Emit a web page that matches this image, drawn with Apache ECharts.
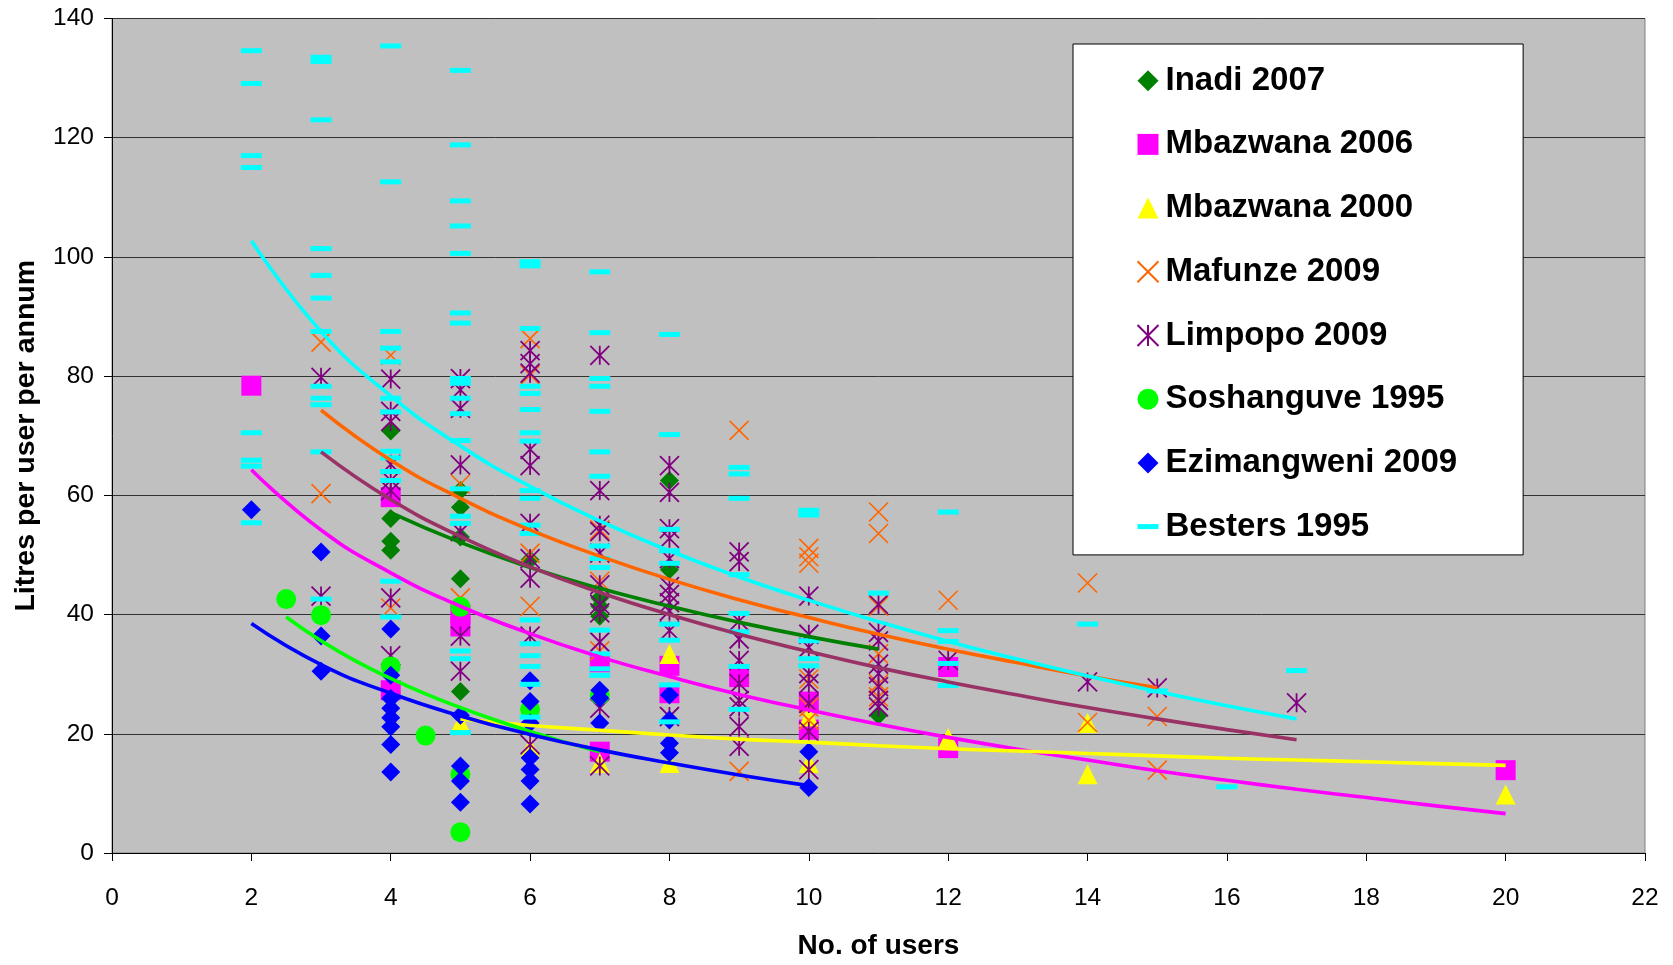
<!DOCTYPE html>
<html><head><meta charset="utf-8">
<script src="https://cdn.jsdelivr.net/npm/echarts@6/dist/echarts.min.js"></script>
<style>html,body{margin:0;padding:0;background:#fff}#c{width:1673px;height:965px}</style>
</head><body><div id="c"></div>
<script>
// ---- data: [No. of users, Litres per user per annum] ----
const inadi2007 = [[4,70.8],[4,56.1],[4,52.3],[4,50.8],[5,60.8],[5,58.0],[5,53.0],[5,46.0],[5,27.1],[6,49.2],[7,42.8],[7,41.4],[7,39.7],[8,62.5],[8,47.5],[11,23.1]];
const mbazwana2006 = [[2,78.4],[4,59.7],[4,27.3],[5,40.0],[5,38.0],[7,32.0],[7,17.0],[8,31.4],[8,26.8],[9,29.5],[10,25.4],[10,20.7],[12,31.2],[12,17.6],[20,13.9]];
const mbazwana2000 = [[5,21.8],[6,17.6],[7,15.1],[8,33.4],[8,15.1],[10,22.9],[10,15.1],[12,19.3],[14,21.8],[14,13.2],[20,9.8]];
const mafunze2009 = [[3,85.7],[3,60.3],[4,83.5],[4,41.1],[5,61.9],[5,42.8],[6,86.3],[6,80.2],[6,50.3],[6,41.4],[7,54.2],[7,45.6],[7,33.9],[9,70.9],[9,13.7],[10,51.1],[10,49.7],[10,48.6],[10,29.2],[10,24.5],[10,22.3],[11,57.2],[11,53.6],[11,41.4],[11,33.4],[11,28.4],[11,26.2],[12,42.4],[14,45.3],[14,21.9],[15,22.9],[15,13.9]];
const limpopo2009 = [[3,79.8],[3,43.1],[4,79.5],[4,74.1],[4,72.4],[4,65.2],[4,62.5],[4,60.8],[4,42.8],[4,33.1],[5,79.6],[5,77.7],[5,74.6],[5,65.1],[5,53.9],[5,36.4],[5,30.5],[6,84.3],[6,82.1],[6,80.5],[6,67.7],[6,65.0],[6,55.3],[6,49.4],[6,46.1],[6,36.4],[6,18.2],[7,83.5],[7,60.8],[7,55.0],[7,53.9],[7,50.3],[7,45.0],[7,41.7],[7,40.3],[7,35.4],[7,24.3],[7,14.6],[8,65.0],[8,60.5],[8,54.4],[8,52.8],[8,49.4],[8,44.7],[8,43.4],[8,42.0],[8,40.6],[8,37.3],[8,22.9],[9,50.5],[9,48.9],[9,38.9],[9,35.9],[9,32.3],[9,28.4],[9,25.6],[9,24.5],[9,21.2],[9,17.9],[10,43.1],[10,36.7],[10,34.5],[10,30.1],[10,28.4],[10,25.1],[10,20.4],[10,14.0],[11,41.7],[11,37.0],[11,35.6],[11,31.7],[11,30.1],[11,27.9],[11,25.6],[11,24.5],[12,32.3],[14,28.7],[15,27.7],[17,25.2]];
const soshanguve1995 = [[2.5,42.6],[3,39.9],[4,31.3],[4.5,19.7],[5,41.3],[5,13.2],[5,3.5],[6,24.1],[7,26.5]];
const ezimangweni2009 = [[2,57.6],[3,50.5],[3,36.4],[3,30.5],[4,37.6],[4,29.8],[4,25.9],[4,24.3],[4,22.7],[4,21.2],[4,18.2],[4,13.6],[5,23.1],[5,14.6],[5,12.1],[5,8.5],[6,28.9],[6,25.4],[6,21.8],[6,16.0],[6,14.0],[6,12.1],[6,8.2],[7,27.3],[7,26.0],[7,21.8],[8,26.5],[8,22.3],[8,18.4],[8,16.8],[10,17.0],[10,11.0]];
const besters1995 = [[2,134.6],[2,129.1],[2,117.0],[2,115.0],[2,70.5],[2,65.9],[2,64.9],[2,55.4],
 [3,133.5],[3,132.8],[3,123.0],[3,101.4],[3,96.9],[3,93.1],[3,87.5],[3,78.3],[3,76.3],[3,75.2],[3,67.3],[3,42.6],
 [4,135.4],[4,112.6],[4,87.5],[4,84.7],[4,82.4],[4,76.3],[4,74.0],[4,67.4],[4,66.3],[4,64.0],[4,62.5],[4,45.6],[4,39.6],
 [5,131.3],[5,118.8],[5,109.4],[5,105.2],[5,100.6],[5,90.6],[5,88.9],[5,79.6],[5,78.8],[5,76.3],[5,73.7],[5,69.2],[5,61.1],[5,56.5],[5,55.3],[5,33.9],[5,32.6],[5,20.2],
 [6,99.2],[6,98.5],[6,88.0],[6,78.3],[6,77.1],[6,74.4],[6,70.5],[6,69.1],[6,60.8],[6,59.5],[6,55.0],[6,53.6],[6,39.1],[6,35.1],[6,33.1],[6,31.3],[6,28.3],[6,22.8],
 [7,97.5],[7,87.3],[7,79.6],[7,78.3],[7,74.1],[7,67.3],[7,63.2],[7,51.5],[7,49.4],[7,47.9],[7,37.4],[7,33.4],[7,30.9],[7,29.8],
 [8,87.0],[8,70.2],[8,54.3],[8,50.7],[8,48.6],[8,38.4],[8,35.7],[8,28.2],[8,22.0],
 [9,64.7],[9,63.6],[9,59.5],[9,46.7],[9,40.2],[9,37.1],[9,31.3],[9,24.1],
 [10,57.5],[10,56.7],[10,35.6],[10,32.6],[10,31.4],
 [11,43.6],[12,57.2],[12,37.3],[12,35.5],[12,31.8],[12,28.1],
 [14,38.4],[15,27.2],[16,11.1],[17,30.6]];

// ---- trend lines, values ----
const trendInadi = [[4,57.1],[5,52.1],[6,47.9],[7,44.4],[8,41.4],[9,38.7],[10,36.3],[11,34.2]];
const trendMbazwana2006 = [[2,64.3],[3,54.2],[4,47.0],[5,41.4],[6,36.8],[7,32.9],[8,29.6],[9,26.6],[10,24.0],[11,21.6],[12,19.4],[13,17.4],[14,15.6],[15,13.8],[16,12.2],[17,10.7],[18,9.3],[19,7.9],[20,6.6]];
const trendMbazwana2000 = [[5,22.5],[6,21.4],[7,20.6],[8,19.8],[9,19.1],[10,18.6],[11,18.0],[12,17.5],[13,17.1],[14,16.7],[15,16.3],[16,15.9],[17,15.6],[18,15.3],[19,15.0],[20,14.7]];
const trendMafunze = [[3,74.3],[4,65.9],[5,59.5],[6,54.2],[7,49.8],[8,45.9],[9,42.5],[10,39.5],[11,36.7],[12,34.2],[13,31.9],[14,29.7],[15,27.7]];
const trendLimpopo = [[3,67.3],[4,59.3],[5,53.1],[6,48.0],[7,43.7],[8,40.0],[9,36.7],[10,33.8],[11,31.1],[12,28.7],[13,26.5],[14,24.4],[15,22.5],[16,20.7],[17,19.0]];
const trendSoshanguve = [[2.5,39.6],[3,35.6],[3.5,32.2],[4,29.3],[4.5,26.7],[5,24.4],[5.5,22.3],[6,20.4],[6.5,18.6],[7,17.0]];
const trendEzimangweni = [[2,38.5],[3,31.6],[4,26.8],[5,23.0],[6,19.9],[7,17.3],[8,15.1],[9,13.1],[10,11.3]];
const trendBesters = [[2,102.7],[3,87.5],[4,76.7],[5,68.3],[6,61.5],[7,55.7],[8,50.7],[9,46.3],[10,42.4],[11,38.8],[12,35.5],[13,32.5],[14,29.7],[15,27.1],[16,24.7],[17,22.5]];

const FONT = "'Liberation Sans', Arial, sans-serif";
const X_PATH = 'path://M0,0L20,20M20,0L0,20';
const STAR_PATH = 'path://M0,0L20,20M20,0L0,20M10,0L10,20';
const DASH_PATH = 'path://M0,0L21,0L21,5L0,5Z';

function scatter(name, data, symbol, size, color, stroke) {
  const s = {
    name, type: 'scatter', data, symbol, symbolSize: size, z: 2,
    itemStyle: { color: color, opacity: 1 },
    emphasis: { disabled: true }
  };
  if (stroke) { s.itemStyle.borderColor = color; s.itemStyle.borderWidth = stroke; }
  return s;
}
function trend(data, color) {
  return { name: 'trend', type: 'line', data, smooth: true, showSymbol: false, symbol: 'none', z: 4, silent: true,
    lineStyle: { color, width: 3.6 }, emphasis: { disabled: true } };
}

const chart = echarts.init(document.getElementById('c'), null, { renderer: 'canvas' });
chart.setOption({
  animation: false,
  backgroundColor: '#ffffff',
  grid: { left: 112, right: 28, top: 18.5, bottom: 99.5, show: true, backgroundColor: '#C0C0C0', borderColor: '#808080', borderWidth: 1 },
  xAxis: {
    type: 'value', min: 0, max: 22, interval: 2,
    name: 'No. of users', nameLocation: 'middle', nameGap: 79,
    nameTextStyle: { fontFamily: FONT, fontSize: 28, fontWeight: 'bold', color: '#000' },
    axisLine: { show: true, onZero: false, lineStyle: { color: '#000', width: 1 } },
    axisTick: { show: true, length: 8, lineStyle: { color: '#000' } },
    axisLabel: { fontFamily: FONT, fontSize: 24.5, color: '#000', margin: 33 },
    splitLine: { show: false }
  },
  yAxis: {
    type: 'value', min: 0, max: 140, interval: 20,
    name: 'Litres per user per annum', nameLocation: 'middle', nameGap: 71,
    nameTextStyle: { fontFamily: FONT, fontSize: 28.5, fontWeight: 'bold', color: '#000' },
    axisLine: { show: true, lineStyle: { color: '#000', width: 1 } },
    axisTick: { show: true, length: 8, lineStyle: { color: '#000' } },
    axisLabel: { fontFamily: FONT, fontSize: 24.5, color: '#000', margin: 18 },
    splitLine: { show: true, lineStyle: { color: '#333', width: 1 } }
  },
  legend: {
    orient: 'vertical', left: 1073, top: 44,
    padding: [16.7, 66, 8.3, 63.5],
    backgroundColor: '#ffffff', borderColor: '#000', borderWidth: 1,
    itemWidth: 21, itemHeight: 21, itemGap: 23.7,
    textStyle: { fontFamily: FONT, fontSize: 33, fontWeight: 'bold', color: '#000', lineHeight: 40, padding: [0, 0, 0, 2] },
    selectedMode: false,
    data: [
      { name: 'Inadi 2007', icon: 'diamond' },
      { name: 'Mbazwana 2006', icon: 'rect' },
      { name: 'Mbazwana 2000', icon: 'triangle' },
      { name: 'Mafunze 2009', icon: X_PATH },
      { name: 'Limpopo 2009', icon: STAR_PATH },
      { name: 'Soshanguve 1995', icon: 'circle' },
      { name: 'Ezimangweni 2009', icon: 'diamond' },
      { name: 'Besters 1995', icon: DASH_PATH }
    ]
  },
  series: [
    scatter('Inadi 2007', inadi2007, 'diamond', 19, '#008000'),
    scatter('Mbazwana 2006', mbazwana2006, 'rect', 20, '#FF00FF'),
    scatter('Mbazwana 2000', mbazwana2000, 'triangle', 20, '#FFFF00'),
    scatter('Mafunze 2009', mafunze2009, X_PATH, 19, '#FF6600', 1.6),
    scatter('Limpopo 2009', limpopo2009, STAR_PATH, 19, '#800080', 1.8),
    scatter('Soshanguve 1995', soshanguve1995, 'circle', 20, '#00FF00'),
    scatter('Ezimangweni 2009', ezimangweni2009, 'diamond', 19, '#0000FF'),
    scatter('Besters 1995', besters1995, 'rect', [21, 5], '#00FFFF'),
    trend(trendInadi, '#008000'),
    trend(trendMbazwana2006, '#FF00FF'),
    trend(trendMbazwana2000, '#FFFF00'),
    trend(trendMafunze, '#FF6600'),
    trend(trendLimpopo, '#993366'),
    trend(trendSoshanguve, '#00FF00'),
    trend(trendEzimangweni, '#0000FF'),
    trend(trendBesters, '#00FFFF')
  ]
});
</script>
</body></html>
